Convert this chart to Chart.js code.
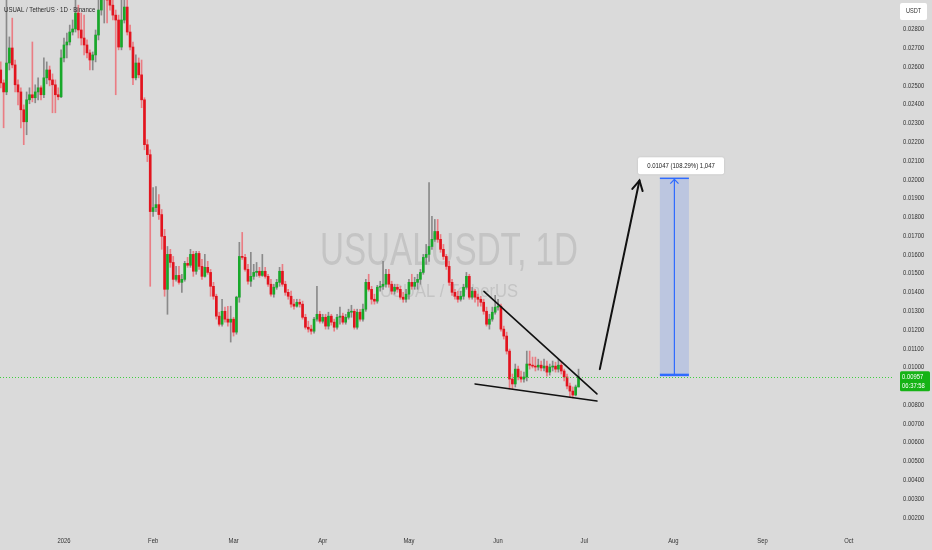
<!DOCTYPE html>
<html><head><meta charset="utf-8">
<script src="https://cdn.jsdelivr.net/npm/chart.js@4.4.1/dist/chart.umd.min.js"></script>
<style>html,body{margin:0;padding:0;background:#dadada;overflow:hidden}canvas{display:block}</style>
</head><body>
<canvas id="c" width="932" height="550"></canvas>
<script>
// ---- data (USUAL/USDT daily) ----
const firstCandleDay = -22; // days relative to 1 Jan 2026 (first candle = 10 Dec 2025)
const opens = [
.02591,.02522,.02474,.02628,.02708,.02618,.02512,.02474,.02379,.02315,
.02432,.02459,.02443,.02474,.02496,.02459,.02549,.02591,.02538,.02512,
.02459,.02448,.02655,.02724,.02740,.02793,.02809,.02894,.02804,.02761,
.02724,.02682,.02644,.02671,.02777,.02910,.02990,.03005,.02963,.02936,
.02883,.02857,.02713,.02857,.02926,.02793,.02713,.02549,.02628,.02565,
.02432,.02193,.02140,.01837,.01858,.01874,.01821,.01705,.01423,.01609,
.01566,.01476,.01497,.01460,.01476,.01561,.01551,.01609,.01519,.01614,
.01545,.01492,.01540,.01513,.01439,.01386,.01280,.01237,.01306,.01264,
.01248,.01264,.01195,.01381,.01598,.01593,.01529,.01466,.01492,.01513,
.01519,.01497,.01519,.01492,.01450,.01397,.01434,.01460,.01519,.01450,
.01407,.01386,.01344,.01333,.01354,.01344,.01274,.01221,.01211,.01200,
.01264,.01290,.01253,.01274,.01227,.01280,.01248,.01221,.01274,.01280,
.01248,.01274,.01301,.01306,.01221,.01301,.01264,.01317,.01460,.01423,
.01370,.01360,.01434,.01439,.01450,.01503,.01450,.01413,.01434,.01423,
.01381,.01370,.01397,.01460,.01439,.01460,.01476,.01513,.01593,.01609,
.01651,.01689,.01731,.01689,.01636,.01598,.01545,.01460,.01407,.01386,
.01370,.01386,.01434,.01492,.01381,.01413,.01381,.01370,.01354,.01306,
.01237,.01264,.01301,.01328,.01333,.01211,.01174,.01094,.00945,.00919,
.00998,.00956,.00945,.00956,.01025,.01019,.01014,.01009,.01019,.01004,
.01014,.00982,.01009,.01014,.00998,.01019,.00988,.00956,.00908,.00881,
.00860,.00903];
const highs = [
.02634,.02538,.03000,.02767,.02867,.02644,.02538,.02496,.02405,.02474,
.02496,.02740,.02512,.02549,.02506,.02655,.02634,.02612,.02570,.02538,
.02496,.02698,.02761,.02788,.02830,.02857,.03016,.02936,.02894,.02883,
.02751,.02698,.02687,.02804,.02963,.03069,.03069,.03069,.03016,.02963,
.02910,.02883,.02963,.03043,.03016,.02830,.02740,.02671,.02655,.02644,
.02443,.02220,.02166,.01965,.01970,.01928,.01848,.01742,.01651,.01636,
.01598,.01545,.01545,.01503,.01572,.01593,.01636,.01625,.01625,.01625,
.01582,.01609,.01572,.01529,.01460,.01397,.01301,.01370,.01328,.01333,
.01333,.01274,.01386,.01673,.01726,.01609,.01556,.01620,.01556,.01566,
.01540,.01609,.01540,.01503,.01476,.01450,.01476,.01540,.01556,.01466,
.01423,.01413,.01370,.01370,.01370,.01360,.01290,.01253,.01232,.01274,
.01439,.01306,.01290,.01290,.01301,.01290,.01264,.01290,.01328,.01296,
.01290,.01317,.01338,.01317,.01317,.01317,.01344,.01476,.01503,.01439,
.01397,.01444,.01466,.01572,.01529,.01529,.01466,.01450,.01450,.01439,
.01407,.01423,.01476,.01503,.01487,.01503,.01529,.01609,.01662,.01991,
.01811,.01795,.01795,.01715,.01662,.01609,.01572,.01476,.01423,.01413,
.01413,.01450,.01513,.01503,.01434,.01423,.01397,.01386,.01370,.01328,
.01290,.01328,.01391,.01370,.01344,.01227,.01195,.01105,.00972,.01025,
.01014,.00988,.00982,.01094,.01094,.01062,.01062,.01051,.01041,.01051,
.01041,.01025,.01041,.01035,.01051,.01035,.00998,.00972,.00924,.00903,
.00913,.00998];
const lows = [
.02496,.02283,.02459,.02591,.02602,.02474,.02405,.02283,.02193,.02246,
.02411,.02421,.02416,.02432,.02432,.02443,.02517,.02506,.02363,.02363,
.02432,.02443,.02634,.02655,.02724,.02777,.02793,.02761,.02724,.02671,
.02655,.02591,.02591,.02634,.02751,.02883,.02841,.02841,.02910,.02857,
.02459,.02698,.02698,.02841,.02777,.02698,.02512,.02538,.02549,.02390,
.02166,.02103,.01439,.01811,.01837,.01795,.01636,.01386,.01290,.01540,
.01439,.01466,.01450,.01407,.01466,.01540,.01540,.01492,.01503,.01529,
.01476,.01487,.01503,.01386,.01370,.01264,.01227,.01227,.01248,.01227,
.01142,.01174,.01184,.01354,.01582,.01519,.01450,.01439,.01476,.01492,
.01487,.01492,.01482,.01439,.01386,.01381,.01423,.01439,.01439,.01391,
.01370,.01328,.01317,.01328,.01328,.01264,.01211,.01195,.01184,.01190,
.01253,.01243,.01243,.01211,.01211,.01232,.01200,.01211,.01237,.01237,
.01237,.01264,.01274,.01211,.01211,.01253,.01253,.01306,.01413,.01344,
.01344,.01349,.01413,.01423,.01434,.01434,.01397,.01397,.01407,.01370,
.01354,.01354,.01370,.01423,.01423,.01423,.01450,.01503,.01556,.01572,
.01636,.01678,.01673,.01620,.01582,.01529,.01444,.01391,.01370,.01354,
.01360,.01370,.01423,.01370,.01370,.01354,.01333,.01333,.01290,.01227,
.01211,.01253,.01290,.01312,.01200,.01158,.01078,.00892,.00892,.00903,
.00940,.00929,.00929,.00935,.00998,.01004,.00988,.00993,.00988,.00988,
.00961,.00966,.00988,.00982,.00982,.00972,.00935,.00892,.00849,.00844,
.00855,.00903];
const closes = [
.02522,.02474,.02628,.02708,.02618,.02512,.02474,.02379,.02315,.02432,
.02459,.02443,.02474,.02496,.02459,.02549,.02591,.02538,.02512,.02459,
.02448,.02655,.02724,.02740,.02793,.02809,.02894,.02804,.02761,.02724,
.02682,.02644,.02671,.02777,.02910,.02990,.03005,.02963,.02936,.02883,
.02857,.02713,.02857,.02926,.02793,.02713,.02549,.02628,.02565,.02432,
.02193,.02140,.01837,.01858,.01874,.01821,.01705,.01423,.01609,.01566,
.01476,.01497,.01460,.01476,.01561,.01551,.01609,.01519,.01614,.01545,
.01492,.01540,.01513,.01439,.01386,.01280,.01237,.01306,.01264,.01248,
.01264,.01195,.01381,.01598,.01593,.01529,.01466,.01492,.01513,.01519,
.01497,.01519,.01492,.01450,.01397,.01434,.01460,.01519,.01450,.01407,
.01386,.01344,.01333,.01354,.01344,.01274,.01221,.01211,.01200,.01264,
.01290,.01253,.01274,.01227,.01280,.01248,.01221,.01274,.01280,.01248,
.01274,.01301,.01306,.01221,.01301,.01264,.01317,.01460,.01423,.01370,
.01360,.01434,.01439,.01450,.01503,.01450,.01413,.01434,.01423,.01381,
.01370,.01397,.01460,.01439,.01460,.01476,.01513,.01593,.01609,.01651,
.01689,.01731,.01689,.01636,.01598,.01545,.01460,.01407,.01386,.01370,
.01386,.01434,.01492,.01381,.01413,.01381,.01370,.01354,.01306,.01237,
.01264,.01301,.01328,.01333,.01211,.01174,.01094,.00945,.00919,.00998,
.00956,.00945,.00956,.01025,.01019,.01014,.01009,.01019,.01004,.01014,
.00982,.01009,.01014,.00998,.01019,.00988,.00956,.00908,.00881,.00860,
.00903,.00957];
const priceTicks = [0.002,0.003,0.004,0.005,0.006,0.007,0.008,0.009,0.010,0.011,0.012,0.013,0.014,
  0.015,0.016,0.017,0.018,0.019,0.020,0.021,0.022,0.023,0.024,0.025,0.026,0.027,0.028];
const monthTickDays = [0,31,59,90,120,151,181,212,243,273];
const monthTickLabels = ['2026','Feb','Mar','Apr','May','Jun','Jul','Aug','Sep','Oct'];
const lastPrice = 0.00957;
const countdown = '06:37:58';
const title = 'USUAL / TetherUS \u00b7 1D \u00b7 Binance';
const watermark = 'USUALUSDT, 1D';
const watermarkSub = 'USUAL / TetherUS';
// drawings (day, price)
const upperTrend = [[146.1,0.01412],[185.4,0.00866]];
const lowerTrend = [[143.0,0.00919],[185.4,0.00828]];
const projArrow = [[186.4,0.00998],[200.2,0.02002]];
const targetRange = {d0:207.3, d1:217.4, base:0.00967, top:0.02014, label:'0.01047 (108.29%) 1,047'};

// ---- chart ----
const GREEN='#18a82a', RED='#e2141e', GWICK='#8a8a8a', RWICK='#ea7d84';
const days = closes.map((_,i)=>firstCandleDay+i);
const up = closes.map((c,i)=>c>=opens[i]);
const FONT='"Liberation Sans", Arial, sans-serif';

function txt(ctx,s,x,y,size,sx,color,align,weight){
  ctx.save();
  ctx.font=(weight||'normal')+' '+size+'px '+FONT;
  ctx.fillStyle=color; ctx.textBaseline='middle'; ctx.textAlign='left';
  const w=ctx.measureText(s).width*sx;
  const x0= align==='center'? x-w/2 : align==='right'? x-w : x;
  ctx.translate(x0,y); ctx.scale(sx,1); ctx.fillText(s,0,0); ctx.restore();
}
function txtW(ctx,s,cx,y,size,width,color){
  ctx.save(); ctx.font=size+'px '+FONT;
  const sx=width/ctx.measureText(s).width; ctx.restore();
  txt(ctx,s,cx,y,size,sx,color,'center');
}
function rrect(ctx,x,y,w,h,r){ctx.beginPath();ctx.roundRect(x,y,w,h,r);}
function arrowHead(ctx,x0,y0,x1,y1,len,ang){
  const a=Math.atan2(y1-y0,x1-x0);
  ctx.beginPath();
  ctx.moveTo(x1-len*Math.cos(a-ang),y1-len*Math.sin(a-ang));
  ctx.lineTo(x1,y1);
  ctx.lineTo(x1-len*Math.cos(a+ang),y1-len*Math.sin(a+ang));
  ctx.stroke();
}

const deco = {
  id:'deco',
  beforeDraw(ch){
    const ctx=ch.ctx; ctx.save(); ctx.fillStyle='#dadada'; ctx.fillRect(0,0,ch.width,ch.height);
    txtW(ctx,watermark,449,252,46,258,'rgba(125,125,125,0.24)');
    txtW(ctx,watermarkSub,449,292,18,138,'rgba(125,125,125,0.24)');
    ctx.restore();
  },
  afterDatasetsDraw(ch){
    const ctx=ch.ctx, X=ch.scales.x, Y=ch.scales.y, a=ch.chartArea;
    const px=p=>[X.getPixelForValue(p[0]),Y.getPixelForValue(p[1])];
    ctx.save();
    // last price dotted line
    const ly=Math.round(Y.getPixelForValue(lastPrice))+0.5;
    ctx.strokeStyle='#3fcf3f'; ctx.lineWidth=1; ctx.setLineDash([1,2]);
    ctx.beginPath(); ctx.moveTo(a.left,ly); ctx.lineTo(a.right,ly); ctx.stroke();
    ctx.setLineDash([]);
    // wedge lines
    ctx.strokeStyle='#111'; ctx.lineWidth=1.6; ctx.lineCap='round';
    for(const ln of [upperTrend,lowerTrend]){
      const p0=px(ln[0]),p1=px(ln[1]);
      ctx.beginPath(); ctx.moveTo(p0[0],p0[1]); ctx.lineTo(p1[0],p1[1]); ctx.stroke();
    }
    // projection arrow
    {const p0=px(projArrow[0]),p1=px(projArrow[1]);
     ctx.lineWidth=2; ctx.beginPath(); ctx.moveTo(p0[0],p0[1]); ctx.lineTo(p1[0],p1[1]); ctx.stroke();
     arrowHead(ctx,p0[0],p0[1],p1[0],p1[1],11,0.5);}
    // target range
    const x0=X.getPixelForValue(targetRange.d0), x1=X.getPixelForValue(targetRange.d1);
    const yb=Y.getPixelForValue(targetRange.base), yt=Y.getPixelForValue(targetRange.top);
    ctx.fillStyle='rgba(41,98,255,0.17)'; ctx.fillRect(x0,yt,x1-x0,yb-yt);
    ctx.strokeStyle='#2f6bff'; ctx.lineCap='butt';
    ctx.lineWidth=1.5; ctx.beginPath(); ctx.moveTo(x0,yt); ctx.lineTo(x1,yt); ctx.stroke();
    ctx.lineWidth=2.5; ctx.beginPath(); ctx.moveTo(x0,yb); ctx.lineTo(x1,yb); ctx.stroke();
    const xm=(x0+x1)/2;
    ctx.lineWidth=1.2; ctx.beginPath(); ctx.moveTo(xm,yb); ctx.lineTo(xm,yt+1); ctx.stroke();
    arrowHead(ctx,xm,yb,xm,yt+1,6,0.75);
    // label
    ctx.fillStyle='#ffffff'; ctx.shadowColor='rgba(0,0,0,0.15)'; ctx.shadowBlur=2;
    rrect(ctx,638,yt-21,86,17,2); ctx.fill(); ctx.shadowBlur=0;
    txt(ctx,targetRange.label,681,yt-12.5,7.5,0.8,'#222','center');
    ctx.restore();
  },
  afterDraw(ch){
    const ctx=ch.ctx, X=ch.scales.x, Y=ch.scales.y;
    ctx.save();
    const ly=Y.getPixelForValue(lastPrice);
    for(const v of priceTicks){
      const y=Y.getPixelForValue(v);
      if(y>ly-5 && y<ly+18) continue;
      txt(ctx,v.toFixed(5),903,y-1.5,7.5,0.78,'#333','left');
    }
    monthTickDays.forEach((d,i)=>{
      txt(ctx,monthTickLabels[i],X.getPixelForValue(d),541,7.5,0.78,'#333','center');
    });
    // last price label
    ctx.fillStyle='#16b316'; rrect(ctx,900,ly-5.5,30,20,1.5); ctx.fill();
    txt(ctx,lastPrice.toFixed(5),902,ly+0.5,7.5,0.78,'#ffffff','left');
    txt(ctx,countdown,902,ly+9,7.5,0.78,'#ffffff','left');
    // currency box
    ctx.fillStyle='#ffffff'; rrect(ctx,900,3,27,17,2); ctx.fill();
    txt(ctx,'USDT',913.5,11.5,7,0.8,'#333','center');
    // title
    txt(ctx,title,4,10,7.8,0.78,'#2a2a2a','left');
    ctx.restore();
  }
};

new Chart(document.getElementById('c'),{
  type:'bar',
  data:{datasets:[
    {label:'body', order:1, grouped:false, barThickness:2, minBarLength:1,
     data:days.map((d,i)=>({x:d,y:[opens[i],closes[i]]})),
     backgroundColor:up.map(u=>u?GREEN:RED), borderWidth:0},
    {label:'wick', order:2, grouped:false, barThickness:1,
     data:days.map((d,i)=>({x:d,y:[lows[i],highs[i]]})),
     backgroundColor:up.map(u=>u?GWICK:RWICK), borderWidth:0}
  ]},
  options:{
    responsive:false, animation:false, devicePixelRatio:1,
    layout:{padding:0},
    plugins:{legend:{display:false},tooltip:{enabled:false}},
    scales:{
      x:{type:'linear', offset:false, min:-22.26, max:288.4,
         grid:{display:false}, border:{display:false}, ticks:{display:false},
         afterFit(s){s.height=23;}},
      y:{type:'linear', position:'right', min:0.001573, max:0.029635,
         grid:{display:false}, border:{display:false}, ticks:{display:false},
         afterBuildTicks(s){s.ticks=priceTicks.map(v=>({value:v}));},
         afterFit(s){s.width=39;}}
    }
  },
  plugins:[deco]
});
</script>
</body></html>
